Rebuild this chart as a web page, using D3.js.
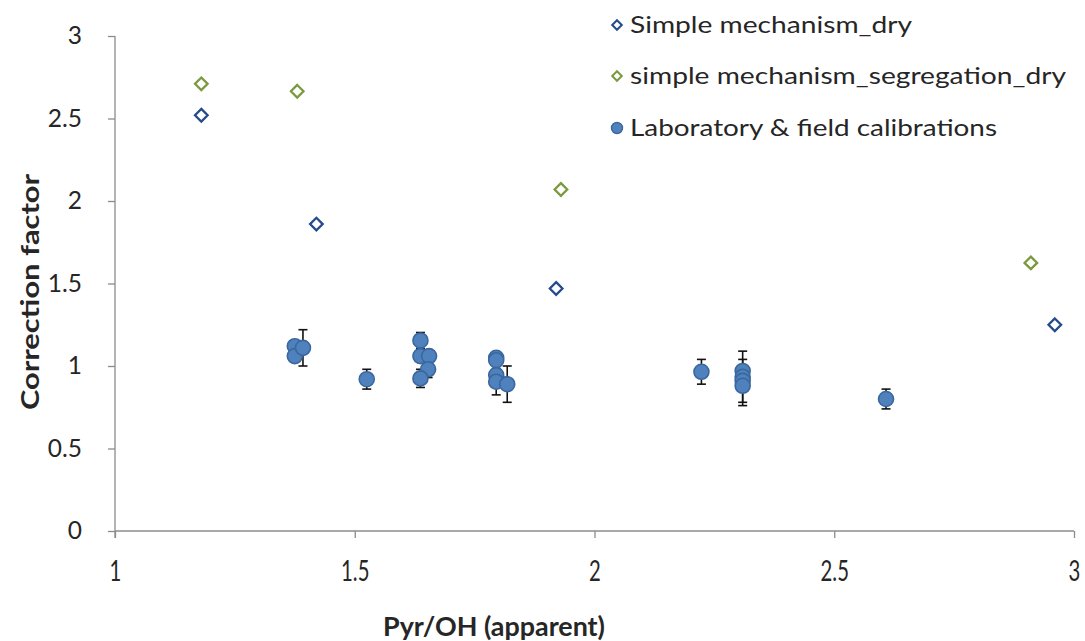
<!DOCTYPE html>
<html>
<head>
<meta charset="utf-8">
<script src="https://cdn.jsdelivr.net/npm/d3@7"></script>
<style>
  html, body { margin: 0; padding: 0; background: #fff; }
  svg { display: block; }
  text { font-family: Lato, "Noto Sans", sans-serif; fill: #262626; }
</style>
</head>
<body>
<svg id="chart" width="1085" height="641"></svg>
<script>
// Model predictions (simple mechanism, dry)
const dryX = [1.18, 1.42, 1.92, 2.96];
const dryY = [2.52, 1.86, 1.47, 1.25];

// Model predictions (simple mechanism with segregation, dry)
const segX = [1.18, 1.38, 1.93, 2.91];
const segY = [2.71, 2.665, 2.07, 1.625];

// Laboratory & field calibrations with error bars
const labX   = [1.375, 1.375, 1.392, 1.525, 1.637, 1.637, 1.655, 1.653, 1.637, 1.795, 1.795, 1.795, 1.795, 1.818, 2.223, 2.309, 2.309, 2.309, 2.309, 2.608];
const labY   = [1.12,  1.06,  1.11,  0.92,  1.155, 1.06,  1.06,  0.98,  0.925, 1.05,  1.035, 0.945, 0.905, 0.89,  0.965, 0.97,  0.935, 0.91,  0.88,  0.80];
const labErr = [0.02,  0.02,  0.11,  0.06,  0.048, 0.03,  0.03,  0.05,  0.055, 0.02,  0.02,  0.03,  0.08,  0.11,  0.075, 0.12,  0.05,  0.13,  0.12,  0.06];

// Axis ticks
const xTicks = [1, 1.5, 2, 2.5, 3];
const yTicks = [0, 0.5, 1, 1.5, 2, 2.5, 3];

const legendLabels = ["Simple mechanism_dry", "simple mechanism_segregation_dry", "Laboratory & field calibrations"];

const svg = d3.select("#chart");
const plotL = 115, plotR = 1074, plotT = 36, plotB = 531;

const x = d3.scaleLinear().domain([1, 3]).range([plotL, plotR]);
const y = d3.scaleLinear().domain([0, 3]).range([plotB, plotT]);

const axisColor = "#8c8c8c";

// Y axis
const yAxis = svg.append("g").attr("transform", `translate(${plotL},0)`)
  .call(d3.axisLeft(y).tickValues(yTicks).tickSize(7).tickPadding(26).tickFormat(d => d));
yAxis.attr("font-size", null).attr("font-family", null);
yAxis.select(".domain").attr("stroke", axisColor).attr("stroke-width", 1.3).attr("d", `M0,${plotT}V${plotB + 7}`);
yAxis.selectAll(".tick line").attr("stroke", axisColor).attr("stroke-width", 1.3);
yAxis.selectAll(".tick text").style("font-size", "24.5px").attr("fill", "#333");

// X axis
const xAxis = svg.append("g").attr("transform", `translate(0,${plotB})`)
  .call(d3.axisBottom(x).tickValues(xTicks).tickSize(7).tickPadding(22).tickFormat(d => d));
xAxis.attr("font-size", null).attr("font-family", null);
xAxis.select(".domain").attr("stroke", axisColor).attr("stroke-width", 1.3).attr("d", `M${plotL},0H${plotR}`);
xAxis.selectAll(".tick line").attr("stroke", axisColor).attr("stroke-width", 1.3);
xAxis.selectAll(".tick text").style("font-size", "29px").attr("fill", "#333")
  .each(function() {
    // condensed look for the horizontal tick labels
    const w = this.getComputedTextLength();
    d3.select(this).attr("textLength", w * 0.7).attr("lengthAdjust", "spacingAndGlyphs");
  });

// Axis titles
svg.append("text")
  .attr("x", 494).attr("y", 636)
  .attr("text-anchor", "middle")
  .style("font-size", "27px").attr("font-weight", "bold")
  .attr("textLength", 222).attr("lengthAdjust", "spacingAndGlyphs")
  .text("Pyr/OH (apparent)");

svg.append("text")
  .attr("transform", "translate(39,292) rotate(-90)")
  .attr("text-anchor", "middle")
  .style("font-size", "25px").attr("font-weight", "bold")
  .attr("textLength", 236).attr("lengthAdjust", "spacingAndGlyphs")
  .text("Correction factor");

const diamond = r => `M0,${-r}L${r},0L0,${r}L${-r},0Z`;
const dryColor = "#244C8A";
const segColor = "#7A9A3E";
const labFill = "#4F81BD";
const labStroke = "#3A679E";

// Error bars (drawn under the markers)
const lab = labX.map((v, i) => ({ x: v, y: labY[i], e: labErr[i] }));
const eb = svg.append("g").attr("stroke", "#111").attr("stroke-width", 1.6);
lab.forEach(d => {
  const cx = x(d.x), y1 = y(d.y + d.e), y2 = y(d.y - d.e);
  eb.append("line").attr("x1", cx).attr("x2", cx).attr("y1", y1).attr("y2", y2);
  eb.append("line").attr("x1", cx - 4.5).attr("x2", cx + 4.5).attr("y1", y1).attr("y2", y1);
  eb.append("line").attr("x1", cx - 4.5).attr("x2", cx + 4.5).attr("y1", y2).attr("y2", y2);
});

// Lab circles
svg.append("g").selectAll("circle").data(lab).join("circle")
  .attr("cx", d => x(d.x)).attr("cy", d => y(d.y)).attr("r", 7.5)
  .attr("fill", labFill).attr("stroke", labStroke).attr("stroke-width", 1.6);

// Model diamonds
svg.append("g").selectAll("path").data(dryX.map((v, i) => [v, dryY[i]])).join("path")
  .attr("transform", d => `translate(${x(d[0])},${y(d[1])})`)
  .attr("d", diamond(6.3)).attr("fill", "#fff").attr("stroke", dryColor).attr("stroke-width", 2.3);

svg.append("g").selectAll("path").data(segX.map((v, i) => [v, segY[i]])).join("path")
  .attr("transform", d => `translate(${x(d[0])},${y(d[1])})`)
  .attr("d", diamond(6.3)).attr("fill", "#fff").attr("stroke", segColor).attr("stroke-width", 2.3);

// Legend
const legendY = [25, 76, 128];
const legendW = [282, 436, 367];
const lg = svg.append("g");
lg.append("path").attr("transform", `translate(617,${legendY[0]})`).attr("d", diamond(4.8))
  .attr("fill", "#fff").attr("stroke", dryColor).attr("stroke-width", 2);
lg.append("path").attr("transform", `translate(617,${legendY[1]})`).attr("d", diamond(4.8))
  .attr("fill", "#fff").attr("stroke", segColor).attr("stroke-width", 2);
lg.append("circle").attr("cx", 617).attr("cy", legendY[2]).attr("r", 5.5)
  .attr("fill", labFill).attr("stroke", labStroke).attr("stroke-width", 1.4);
legendLabels.forEach((t, i) => {
  lg.append("text").attr("x", 630).attr("y", legendY[i] + 8)
    .style("font-size", "23px")
    .attr("textLength", legendW[i]).attr("lengthAdjust", "spacingAndGlyphs")
    .text(t);
});
</script>
</body>
</html>
